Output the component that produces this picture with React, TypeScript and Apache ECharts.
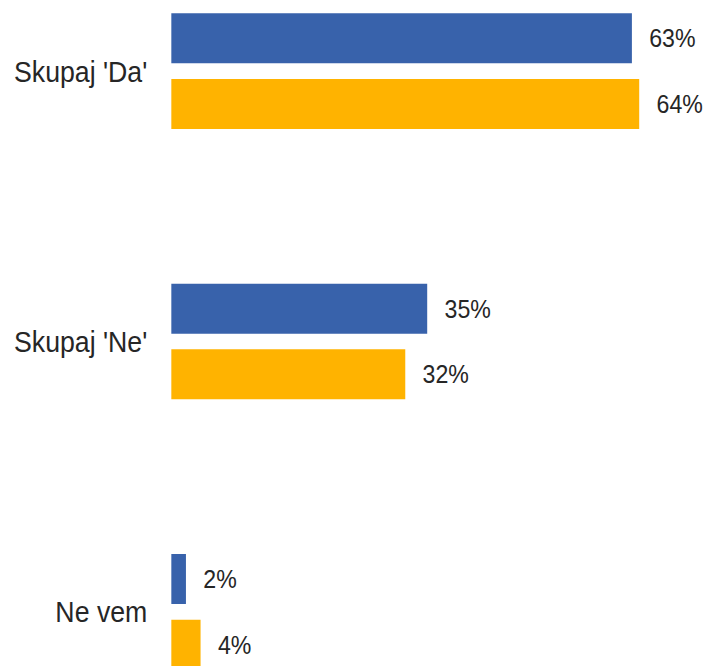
import React, { useEffect, useRef } from "react";
import * as echarts from "echarts";

const categories = ["Skupaj 'Da'", "Skupaj 'Ne'", "Ne vem"];
const seriesA = [63, 35, 2];
const seriesB = [64, 32, 4];
const seriesNames = ["A", "B"];
const colors = ["#3862AB", "#FFB300"];

// the reference's lettering is horizontally condensed; the chart is drawn wider and squeezed
const SQUEEZE = 0.89;
const W = 707 / SQUEEZE;

export default function App() {
  const ref = useRef<HTMLDivElement>(null);
  useEffect(() => {
    if (!ref.current) return;
    const chart = echarts.init(ref.current, null, { renderer: "svg" });
    const labelStyle = {
      show: true,
      position: "right" as const,
      distance: 19.5,
      formatter: "{c}%",
      fontFamily: "'Liberation Sans', Arial, sans-serif",
      fontSize: 26,
      color: "#262626",
    };
    chart.setOption({
      animation: false,
      backgroundColor: "#ffffff",
      grid: {
        left: 192.5,
        top: -64,
        width: 575,
        height: 811,
        containLabel: false,
        outerBoundsMode: "none",
      },
      xAxis: {
        type: "value",
        min: 0,
        max: 70,
        show: false,
      },
      yAxis: {
        type: "category",
        data: categories,
        inverse: true,
        axisLine: { show: false },
        axisTick: { show: false },
        splitLine: { show: false },
        axisLabel: {
          margin: 27,
          fontFamily: "'Liberation Sans', Arial, sans-serif",
          fontSize: 30,
          color: "#262626",
        },
      },
      series: [
        {
          name: seriesNames[0],
          type: "bar",
          data: seriesA,
          barWidth: 50,
          barGap: "31.4%",
          itemStyle: { color: colors[0] },
          label: labelStyle,
        },
        {
          name: seriesNames[1],
          type: "bar",
          data: seriesB,
          barWidth: 50,
          barGap: "31.4%",
          itemStyle: { color: colors[1] },
          label: labelStyle,
        },
      ],
    });
    return () => chart.dispose();
  }, []);
  return (
    <div
      ref={ref}
      style={{
        width: W,
        height: 666,
        position: "fixed",
        left: 0,
        top: 0,
        transform: `scaleX(${SQUEEZE})`,
        transformOrigin: "0 0",
      }}
    />
  );
}
